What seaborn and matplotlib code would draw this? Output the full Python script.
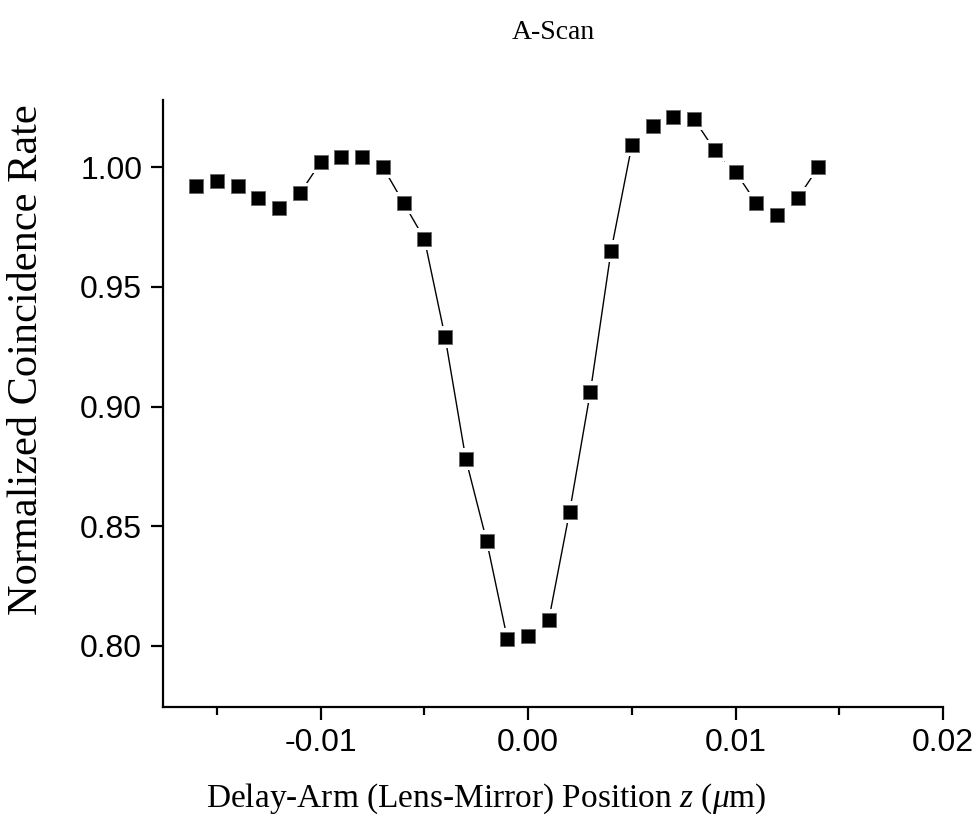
import matplotlib
matplotlib.use("Agg")
import matplotlib.pyplot as plt
from matplotlib.ticker import MultipleLocator
import pandas as pd
import seaborn as sns

# delay-arm position (um) and normalized coincidence rate
z_pos = [-0.016, -0.015, -0.014, -0.013, -0.012, -0.011, -0.010, -0.009,
         -0.008, -0.007, -0.006, -0.005, -0.004, -0.003, -0.002, -0.001,
         0.000, 0.001, 0.002, 0.003, 0.004, 0.005, 0.006, 0.007,
         0.008, 0.009, 0.010, 0.011, 0.012, 0.013, 0.014]
rate = [0.992, 0.994, 0.992, 0.987, 0.983, 0.989, 1.002, 1.004,
        1.004, 1.000, 0.985, 0.970, 0.929, 0.878, 0.844, 0.803,
        0.804, 0.811, 0.856, 0.906, 0.965, 1.009, 1.017, 1.021,
        1.020, 1.007, 0.998, 0.985, 0.980, 0.987, 1.000]

x_ticks = [-0.01, 0.00, 0.01, 0.02]
y_ticks = [0.80, 0.85, 0.90, 0.95, 1.00]

df = pd.DataFrame({"z": z_pos, "rate": rate})

sns.set_style("ticks")
plt.rcParams["font.family"] = ["Liberation Sans", "DejaVu Sans"]
plt.rcParams["text.color"] = "black"
plt.rcParams["axes.labelcolor"] = "black"
plt.rcParams["mathtext.fontset"] = "custom"
plt.rcParams["mathtext.rm"] = "Liberation Serif"
plt.rcParams["mathtext.it"] = "Liberation Serif:italic"

fig = plt.figure(figsize=(9.8, 8.25), dpi=100)
ax = fig.add_axes([0.1663, 0.143, 0.7959, 0.7358])

# thin connecting line, then white halo squares to break it near markers
sns.lineplot(data=df, x="z", y="rate", color="black", linewidth=1, ax=ax)
sns.scatterplot(data=df, x="z", y="rate", marker="s", s=240, color="white",
                edgecolor="none", linewidth=0, ax=ax, zorder=3)
sns.scatterplot(data=df, x="z", y="rate", marker="s", s=110, color="black",
                edgecolor="#666666", linewidth=0.6, ax=ax, zorder=4)

ax.set_xlim(-0.0176, 0.02)
ax.set_ylim(0.7745, 1.028)
ax.set_xticks(x_ticks)
ax.set_xticklabels([f"{v:.2f}" for v in x_ticks])
ax.xaxis.set_minor_locator(MultipleLocator(0.005))
ax.set_yticks(y_ticks)
ax.set_yticklabels([f"{v:.2f}" for v in y_ticks])

for side in ["top", "right"]:
    ax.spines[side].set_visible(False)
for side in ["left", "bottom"]:
    ax.spines[side].set_linewidth(1.6)
    ax.spines[side].set_color("black")

ax.tick_params(axis="both", which="major", direction="out", length=9, width=1.6,
               labelsize=23, colors="black", pad=6)
ax.tick_params(axis="x", which="minor", direction="out", length=6, width=1.6,
               colors="black")

serif = ["Liberation Serif", "DejaVu Serif"]
ax.set_title("A-Scan", fontsize=20, family=serif, pad=44, color="black")
ax.set_xlabel(r"Delay-Arm (Lens-Mirror) Position $\it{z}$ ($\mu$m)", fontsize=24,
              family=serif, color="black")
ax.set_ylabel("Normalized Coincidence Rate", fontsize=30.5, family=serif,
              color="black")
ax.xaxis.set_label_coords(0.415, -0.122)
ax.yaxis.set_label_coords(-0.15, 0.572)

fig.savefig("out.png", dpi=100)
